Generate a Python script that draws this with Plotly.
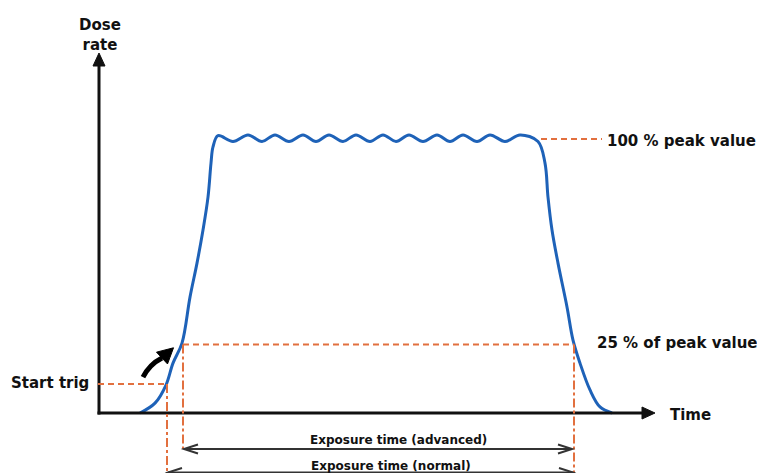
import plotly.graph_objects as go

# ---------------- data (time in arbitrary units, dose rate in % of peak) ----------------
rise_t = [41, 56, 67, 74, 83, 91, 98, 104, 109, 112, 114, 119]
rise_d = [0, 3.6, 10.2, 18.2, 25.5, 42.3, 54.7, 66.8, 78.8, 91.2, 97.1, 101.2]

plateau_t = [134, 149, 163, 176, 190, 204, 217, 230, 244, 257, 271, 284,
             297, 310, 324, 338, 351, 364, 378, 391, 406, 421, 439]
plateau_d = [99.1, 101.5, 99.1, 101.5, 99.1, 101.5, 99.1, 101.5, 99.1, 101.5, 99.1, 101.5,
             99.1, 101.5, 99.1, 101.5, 99.1, 101.5, 99.1, 101.5, 99.1, 101.5, 99.1]

fall_t = [446, 449, 453, 459, 468, 474, 481, 491, 501, 513]
fall_d = [91.2, 78.8, 66.8, 54.7, 38.7, 26.6, 18.2, 8.4, 2.2, 0]

PEAK = 100
LEVEL_25 = 25
START_TRIG_LEVEL = 10.6
T_START_TRIG = 68      # time at start trig
T_25_RISE = 84         # 25 % crossing, rising edge
T_25_FALL = 475        # 25 % crossing, falling edge

labels = {
    "dose": "Dose<br>rate",
    "time": "Time",
    "peak": "100 % peak value",
    "p25": "25 % of peak value",
    "trig": "Start trig",
    "adv": "Exposure time (advanced)",
    "norm": "Exposure time (normal)",
}

# ---------------- styling / geometry ----------------
BLUE = "#1E62B8"
ORANGE = "#E2703F"
GRAY = "#333333"
BLACK = "#111111"
FONT = "DejaVu Sans"

W, H = 757, 473
PX_T = 1.0          # pixels per time unit
PX_D = 2.74         # pixels per % unit
ORIGIN_X, ORIGIN_Y = 99, 413

x_range = [-ORIGIN_X / PX_T, (W - ORIGIN_X) / PX_T]
y_range = [-(H - ORIGIN_Y) / PX_D, ORIGIN_Y / PX_D]

def dpx(p):  # vertical pixels -> % units
    return p / PX_D

t_all = rise_t + plateau_t + fall_t
d_all = rise_d + plateau_d + fall_d

fig = go.Figure()
fig.add_trace(go.Scatter(x=t_all, y=d_all, mode="lines",
                         line=dict(color=BLUE, width=3, shape="spline", smoothing=1.0),
                         hoverinfo="skip", showlegend=False))

shapes = []
# axes
Y_TOP_TIP = y_range[1] - dpx(53)
X_END_TIP = 556
shapes.append(dict(type="line", x0=0, x1=0, y0=-dpx(1.5), y1=Y_TOP_TIP - dpx(12),
                   line=dict(color=BLACK, width=3)))
shapes.append(dict(type="path",
                   path=f"M -6,{Y_TOP_TIP - dpx(13)} L 0,{Y_TOP_TIP} L 6,{Y_TOP_TIP - dpx(13)} Z",
                   fillcolor=BLACK, line=dict(color=BLACK, width=1)))
shapes.append(dict(type="line", x0=-1.5, x1=X_END_TIP - 12, y0=0, y1=0,
                   line=dict(color=BLACK, width=3)))
shapes.append(dict(type="path",
                   path=f"M {X_END_TIP - 13},{dpx(6)} L {X_END_TIP},0 L {X_END_TIP - 13},{-dpx(6)} Z",
                   fillcolor=BLACK, line=dict(color=BLACK, width=1)))

# dashed reference levels
dash = dict(color=ORANGE, width=2, dash="6px,4px")
shapes.append(dict(type="line", x0=442, x1=503, y0=PEAK, y1=PEAK, line=dash))
shapes.append(dict(type="line", x0=T_25_RISE, x1=T_25_FALL, y0=LEVEL_25, y1=LEVEL_25, line=dash))
shapes.append(dict(type="line", x0=-1, x1=T_START_TRIG, y0=START_TRIG_LEVEL, y1=START_TRIG_LEVEL, line=dash))

# dash-dot verticals
dd = dict(color=ORANGE, width=2, dash="dashdot")
Y_ADV = -dpx(36)
Y_NORM = -dpx(59.5)
shapes.append(dict(type="line", x0=T_START_TRIG, x1=T_START_TRIG, y0=START_TRIG_LEVEL, y1=y_range[0], line=dd))
shapes.append(dict(type="line", x0=T_25_RISE, x1=T_25_RISE, y0=LEVEL_25, y1=Y_ADV, line=dd))
shapes.append(dict(type="line", x0=T_25_FALL, x1=T_25_FALL, y0=LEVEL_25, y1=y_range[0], line=dd))

# double arrows for exposure times
def double_arrow(t0, t1, y):
    out = [dict(type="line", x0=t0 + 1, x1=t1 - 1, y0=y, y1=y, line=dict(color=GRAY, width=2))]
    h = dpx(4.5)
    out.append(dict(type="path", path=f"M {t0 + 15},{y + h} L {t0 + 1},{y} L {t0 + 15},{y - h}",
                    line=dict(color=GRAY, width=2)))
    out.append(dict(type="path", path=f"M {t1 - 15},{y + h} L {t1 - 1},{y} L {t1 - 15},{y - h}",
                    line=dict(color=GRAY, width=2)))
    return out

shapes += double_arrow(T_25_RISE, T_25_FALL - 1, Y_ADV)
shapes += double_arrow(T_START_TRIG, T_25_FALL, Y_NORM)

# curved black pointer arrow towards start of rise
tail = (44, 13.1)
ctrl = (50.5, 17.8)
base = (63, 20.1)
head_a = (57.5, 22.2)
head_b = (68.5, 17.9)
tip = (74.5, 23.8)
shapes.append(dict(type="path",
                   path=f"M {tail[0]},{tail[1]} Q {ctrl[0]},{ctrl[1]} {base[0]},{base[1]}",
                   line=dict(color="black", width=5)))
shapes.append(dict(type="path",
                   path=f"M {head_a[0]},{head_a[1]} L {tip[0]},{tip[1]} L {head_b[0]},{head_b[1]} Z",
                   fillcolor="black", line=dict(color="black", width=1)))

big = dict(family=FONT, size=15, color=BLACK, weight="bold")
small = dict(family=FONT, size=12, color=BLACK, weight="bold")
annotations = [
    dict(x=1, y=y_range[1] - dpx(35), text=labels["dose"], font=big, xanchor="center", yanchor="middle"),
    dict(x=569, y=-dpx(2), text=labels["time"], font=big, xanchor="left", yanchor="middle"),
    dict(x=506, y=PEAK - dpx(1.5), text=labels["peak"], font=big, xanchor="left", yanchor="middle"),
    dict(x=496, y=LEVEL_25 + dpx(1.5), text=labels["p25"], font=big, xanchor="left", yanchor="middle"),
    dict(x=-90, y=START_TRIG_LEVEL + dpx(1), text=labels["trig"], font=big, xanchor="left", yanchor="middle"),
    dict(x=299, y=-dpx(27), text=labels["adv"], font=small, xanchor="center", yanchor="middle"),
    dict(x=292, y=-dpx(53), text=labels["norm"], font=small, xanchor="center", yanchor="middle"),
]
for a in annotations:
    a.update(xref="x", yref="y", showarrow=False)

fig.update_layout(
    width=W, height=H,
    margin=dict(l=0, r=0, t=0, b=0),
    paper_bgcolor="white", plot_bgcolor="white",
    xaxis=dict(range=x_range, visible=False, fixedrange=True),
    yaxis=dict(range=y_range, visible=False, fixedrange=True),
    shapes=shapes, annotations=annotations,
    showlegend=False,
)

fig.write_html(
    "out.html",
    config={"displayModeBar": False},
    post_script="document.body.style.margin='0';document.body.style.overflow='hidden';",
)
